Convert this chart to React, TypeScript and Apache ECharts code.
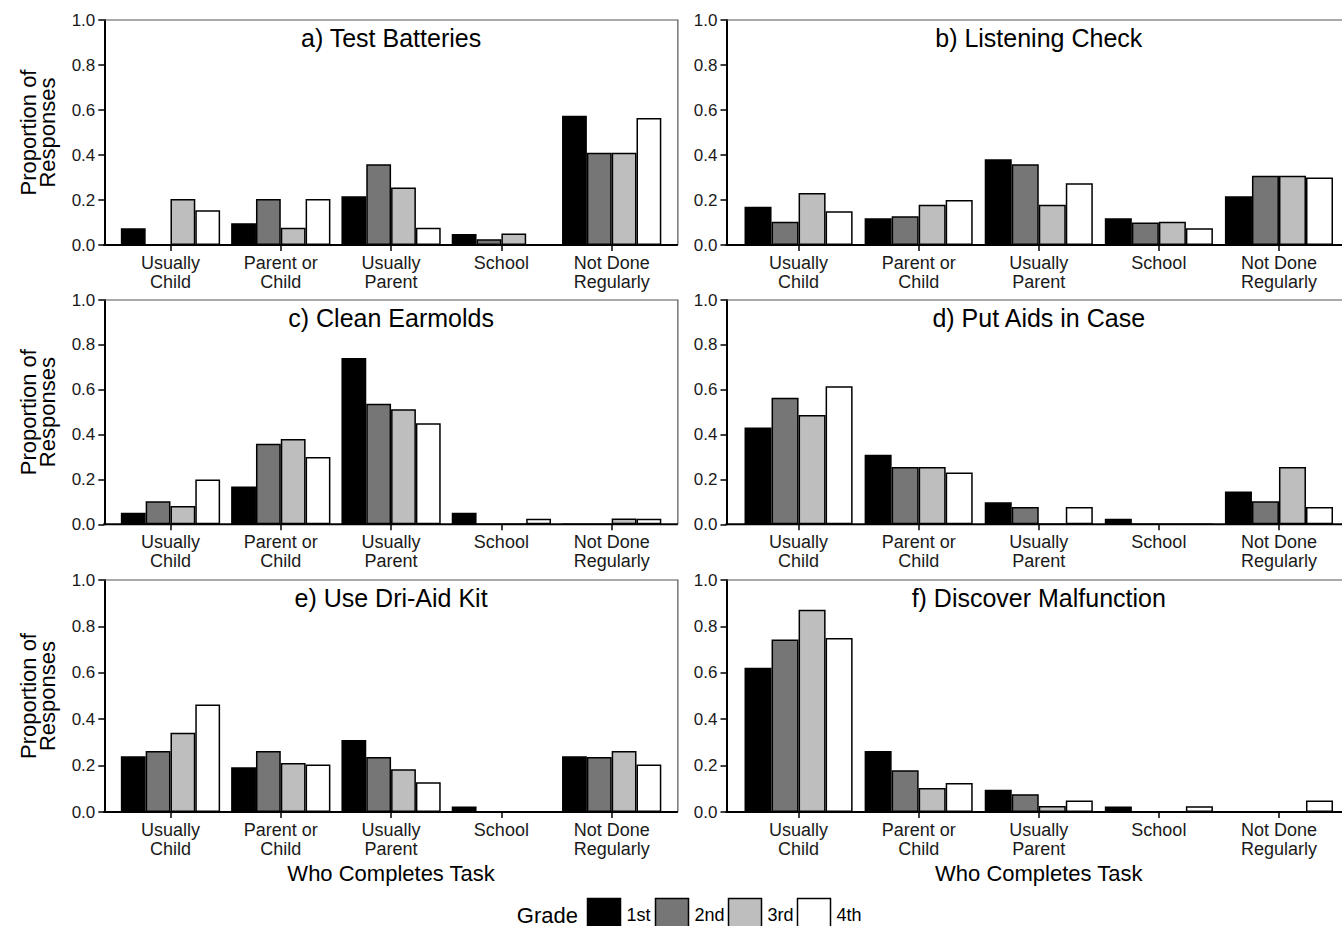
import React, { useEffect, useRef } from "react";
import * as echarts from "echarts";

const categories = ["Usually\nChild", "Parent or\nChild", "Usually\nParent", "School", "Not Done\nRegularly"];
const grades = ["1st", "2nd", "3rd", "4th"];
const gradeColors = ["#000000", "#767676", "#bebebe", "#ffffff"];
const panelTitles = [
  "a) Test Batteries",
  "b) Listening Check",
  "c) Clean Earmolds",
  "d) Put Aids in Case",
  "e) Use Dri-Aid Kit",
  "f) Discover Malfunction",
];
const yTicks = [0, 0.2, 0.4, 0.6, 0.8, 1.0];

// values per grade (1st, 2nd, 3rd, 4th), per category
const testBatteries = [
  [0.074, 0.097, 0.217, 0.049, 0.574],
  [0, 0.205, 0.359, 0.026, 0.41],
  [0.205, 0.077, 0.256, 0.051, 0.41],
  [0.154, 0.205, 0.077, 0, 0.564],
];
const listeningCheck = [
  [0.17, 0.119, 0.381, 0.119, 0.217],
  [0.103, 0.128, 0.359, 0.1, 0.308],
  [0.231, 0.179, 0.179, 0.103, 0.308],
  [0.15, 0.2, 0.275, 0.075, 0.3],
];
const cleanEarmolds = [
  [0.051, 0.169, 0.741, 0.051, 0],
  [0.103, 0.359, 0.538, 0, 0],
  [0.082, 0.38, 0.513, 0, 0.026],
  [0.2, 0.3, 0.45, 0.025, 0.025],
];
const putAidsInCase = [
  [0.432, 0.31, 0.098, 0.025, 0.146],
  [0.564, 0.256, 0.077, 0, 0.103],
  [0.487, 0.256, 0, 0, 0.256],
  [0.615, 0.231, 0.077, 0, 0.077],
];
const useDriAidKit = [
  [0.24, 0.193, 0.31, 0.024, 0.24],
  [0.263, 0.263, 0.237, 0, 0.237],
  [0.342, 0.211, 0.184, 0, 0.263],
  [0.463, 0.205, 0.128, 0, 0.205],
];
const discoverMalfunction = [
  [0.622, 0.263, 0.096, 0.024, 0],
  [0.744, 0.18, 0.077, 0, 0],
  [0.872, 0.103, 0.026, 0, 0],
  [0.75, 0.125, 0.05, 0.025, 0.05],
];
const panelData = [testBatteries, listeningCheck, cleanEarmolds, putAidsInCase, useDriAidKit, discoverMalfunction];

// layout
const cols = [
  { axisX: 104.3, unit: 110.3 },
  { axisX: 726.5, unit: 120.1 },
];
const rows = [
  { top: 20, height: 225 },
  { top: 300, height: 224.3 },
  { top: 580, height: 232 },
];
const FONT = "'Liberation Sans', Arial, Helvetica, sans-serif";

function buildOption() {
  const grid: any[] = [];
  const xAxis: any[] = [];
  const yAxis: any[] = [];
  const series: any[] = [];
  const title: any[] = [];
  const graphic: any[] = [];

  panelData.forEach((data, p) => {
    const r = Math.floor(p / 2);
    const c = p % 2;
    const col = cols[c];
    const row = rows[r];
    const gLeft = col.axisX + 0.1 * col.unit;
    const gWidth = 5 * col.unit;
    const frameRight = col.axisX + 5.2 * col.unit;
    const bottom = row.top + row.height;

    grid.push({ left: gLeft, top: row.top, width: gWidth, height: row.height, containLabel: false });

    xAxis.push({
      type: "category",
      gridIndex: p,
      data: categories,
      axisLine: { show: false },
      axisTick: { show: true, alignWithLabel: true, length: 6, lineStyle: { color: "#000", width: 1.5 } },
      axisLabel: { interval: 0, fontSize: 18, lineHeight: 19, margin: 8, color: "#1a1a1a", fontFamily: FONT },
      splitLine: { show: false },
      name: r === 2 ? "Who Completes Task" : "",
      nameLocation: "middle",
      nameGap: 50,
      nameTextStyle: { fontSize: 22, color: "#000", fontFamily: FONT },
    });

    yAxis.push({
      type: "value",
      gridIndex: p,
      min: 0,
      max: 1,
      interval: 0.2,
      offset: gLeft - col.axisX,
      axisLine: { show: true, lineStyle: { color: "#000", width: 2 } },
      axisTick: { show: true, length: 6, lineStyle: { color: "#000", width: 1.5 } },
      axisLabel: {
        fontSize: 17,
        margin: 9,
        color: "#1a1a1a",
        fontFamily: FONT,
        formatter: (v: number) => v.toFixed(1),
        customValues: yTicks,
      },
      splitLine: { show: false },
      name: c === 0 ? "Proportion of\nResponses" : "",
      nameLocation: "middle",
      nameRotate: 90,
      nameGap: 47,
      nameTextStyle: { fontSize: 22, lineHeight: 19, color: "#000", fontFamily: FONT },
    });

    grades.forEach((g, k) => {
      series.push({
        type: "bar",
        name: g,
        xAxisIndex: p,
        yAxisIndex: p,
        data: data[k],
        barGap: "0%",
        barCategoryGap: "10%",
        itemStyle: { color: gradeColors[k], borderColor: "#000", borderWidth: 1.5 },
        emphasis: { disabled: true },
      });
    });

    title.push({
      text: panelTitles[p],
      left: (col.axisX + frameRight) / 2,
      top: row.top + 5,
      textAlign: "center",
      padding: 0,
      textStyle: { fontSize: 25, lineHeight: 25, fontWeight: "normal", color: "#000", fontFamily: FONT },
    });

    // panel frame: thin top/right, thick bottom
    graphic.push({
      type: "polyline",
      silent: true,
      z: 50,
      shape: { points: [[col.axisX, row.top], [frameRight, row.top], [frameRight, bottom]] },
      style: { stroke: "#555", lineWidth: 1.2, fill: null },
    });
    graphic.push({
      type: "line",
      silent: true,
      z: 50,
      shape: { x1: col.axisX - 1, y1: bottom, x2: frameRight, y2: bottom },
      style: { stroke: "#000", lineWidth: 2 },
    });
  });

  // legend
  graphic.push({
    type: "text",
    silent: true,
    x: 578,
    y: 915,
    style: { text: "Grade", fontSize: 22, fill: "#000", align: "right", verticalAlign: "middle", fontFamily: FONT },
  });
  const boxX = [587.5, 655.5, 728.5, 797.5];
  grades.forEach((g, k) => {
    graphic.push({
      type: "rect",
      silent: true,
      shape: { x: boxX[k], y: 898.5, width: 33, height: 32 },
      style: { fill: gradeColors[k], stroke: "#000", lineWidth: 1.5 },
    });
    graphic.push({
      type: "text",
      silent: true,
      x: boxX[k] + 39,
      y: 915,
      style: { text: g, fontSize: 18, fill: "#000", align: "left", verticalAlign: "middle", fontFamily: FONT },
    });
  });

  return {
    animation: false,
    backgroundColor: "#ffffff",
    textStyle: { fontFamily: FONT },
    title,
    grid,
    xAxis,
    yAxis,
    series,
    graphic,
  };
}

export default function App() {
  const ref = useRef<HTMLDivElement>(null);
  useEffect(() => {
    if (!ref.current) return;
    const chart = echarts.init(ref.current, null, { renderer: "svg" });
    chart.setOption(buildOption() as any);
    return () => chart.dispose();
  }, []);
  return (
    <div
      ref={ref}
      style={{ position: "absolute", left: 0, top: 0, width: 1342, height: 926, background: "#fff" }}
    />
  );
}
